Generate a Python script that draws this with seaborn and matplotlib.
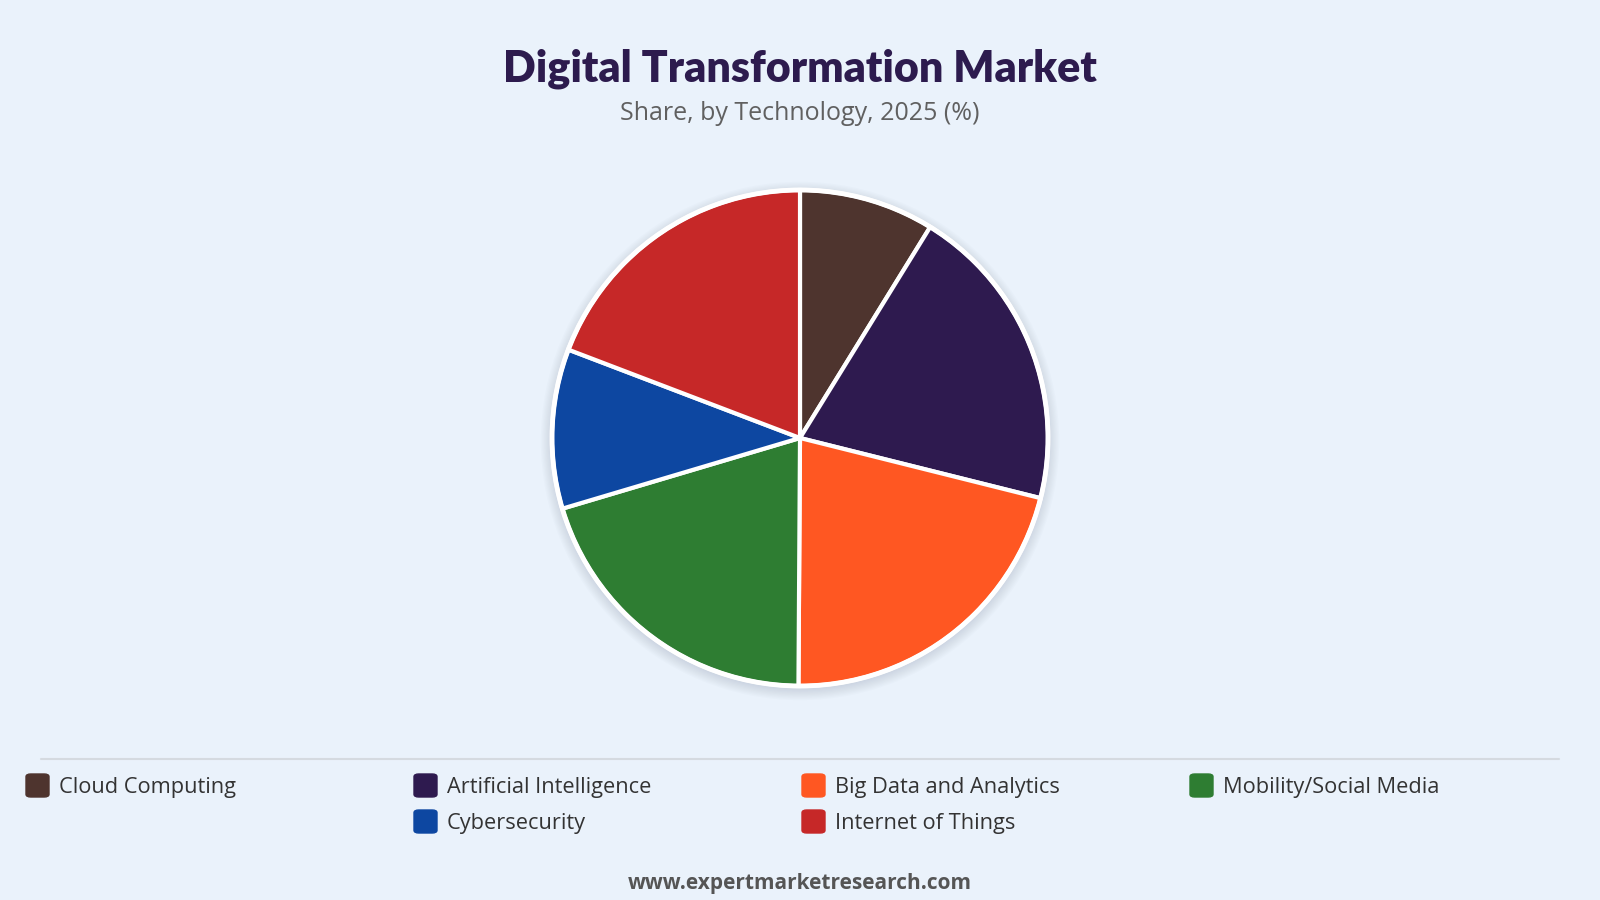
import numpy as np
import matplotlib
matplotlib.use("Agg")
import matplotlib.pyplot as plt
from matplotlib.patches import FancyBboxPatch, Circle
import seaborn as sns

# data
technologies = ["Cloud Computing", "Artificial Intelligence", "Big Data and Analytics",
                "Mobility/Social Media", "Cybersecurity", "Internet of Things"]
shares = [8.8, 20.1, 21.2, 20.3, 10.4, 19.2]
colors = ["#4E342E", "#2E1A4F", "#FF5722", "#2E7D32", "#0D47A1", "#C62828"]

bg = "#EAF2FB"
sns.set_theme(style="white")
plt.rcParams['font.family'] = ['Open Sans', 'DejaVu Sans']

W, H = 1600, 900
fig = plt.figure(figsize=(16, 9), dpi=100, facecolor=bg)

# pie
cx, cy, r = 800, 438, 248
m = 1.12
ax = fig.add_axes([(cx - r * m) / W, 1 - (cy + r * m) / H, 2 * r * m / W, 2 * r * m / H])
ax.set_facecolor("none")
ax.axis("off")

# soft shadow
for k in range(10):
    ax.add_patch(Circle((0.0, -0.012), 1.0 + 0.005 * k, color="#8a99ad", alpha=0.03, lw=0, zorder=0))

ax.pie(shares, colors=colors, startangle=90, counterclock=False, radius=1.0,
       wedgeprops=dict(edgecolor="white", linewidth=3))
ax.add_patch(Circle((0, 0), 1.0, fill=False, edgecolor="white", lw=3.5, zorder=5))
ax.set_xlim(-m, m)
ax.set_ylim(-m, m)
ax.set_aspect("equal")

# titles
fig.text(0.5, 1 - 69 / H, "Digital Transformation Market", ha="center", va="center",
         fontsize=31, fontweight="heavy", color="#2D1B4E", family=["Lato", "DejaVu Sans"])
fig.text(0.5, 1 - 113 / H, "Share, by Technology, 2025 (%)", ha="center", va="center",
         fontsize=18, fontweight="medium", color="#606060")

# separator line
fig.add_artist(plt.Line2D([41 / W, 1559 / W], [1 - 759 / H, 1 - 759 / H],
                          color="#D5DAE0", lw=1.5))

# legend
col_x = [25, 413, 801, 1189]
row_y = [787, 823]
ncol = 4
n = len(technologies)
for i, (lab, c) in enumerate(zip(technologies, colors)):
    row = i // ncol
    in_row = min(ncol, n - row * ncol)
    col = i % ncol + (ncol - in_row) // 2
    x0 = col_x[col]
    y0 = row_y[row]
    box = FancyBboxPatch(((x0 + 1) / W, 1 - (y0 + 10) / H), 23 / W, 23 / H,
                         boxstyle="round,pad=0,rounding_size=0.003",
                         transform=fig.transFigure, facecolor=c, edgecolor=c, lw=1)
    fig.add_artist(box)
    fig.text((x0 + 34) / W, 1 - y0 / H, lab, ha="left", va="center",
             fontsize=15.7, color="#333333")

fig.text(0.5, 1 - 883 / H, "www.expertmarketresearch.com", ha="center", va="center",
         fontsize=15, fontweight="bold", color="#555555")

fig.savefig("out.png", dpi=100, facecolor=bg)
